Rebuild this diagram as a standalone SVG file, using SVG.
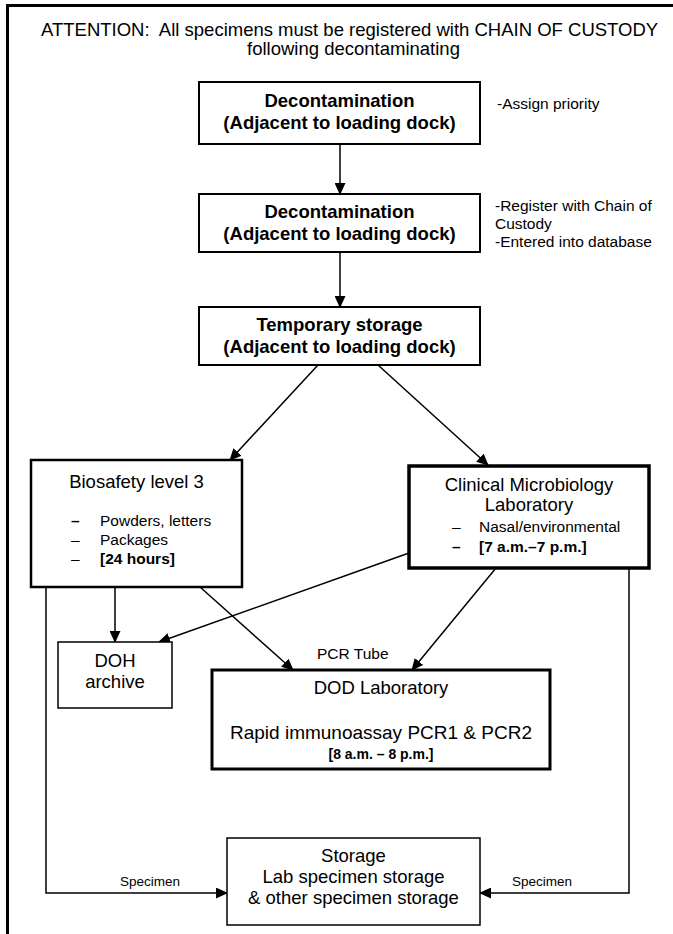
<svg xmlns="http://www.w3.org/2000/svg" width="673" height="934" viewBox="0 0 673 934">
<style>
text{font-family:"Liberation Sans",Arial,sans-serif;fill:#000}
.t{font-size:18.5px}
.b{font-size:18.5px;font-weight:bold}
.n{font-size:15.5px}
.nb{font-size:15.5px;font-weight:bold}
.s{font-size:13.5px}
.c{text-anchor:middle}
.box{fill:#fff;stroke:#000}
.ln{fill:none;stroke:#000;stroke-width:1.5}
</style>
<defs>
<marker id="ah" markerUnits="userSpaceOnUse" markerWidth="12" markerHeight="11" refX="11" refY="5.5" orient="auto" viewBox="0 0 12 11">
<path d="M0,0 L12,5.5 L0,11 z" fill="#000"/>
</marker>
</defs>
<rect width="673" height="934" fill="#fff"/>
<g id="frame">
<line x1="7.5" y1="4" x2="7.5" y2="934" stroke="#000" stroke-width="3"/>
<line x1="6" y1="5.5" x2="673" y2="5.5" stroke="#000" stroke-width="3"/>
</g>
<g id="title">
<text class="t" x="41" y="36" xml:space="preserve">ATTENTION:  All specimens must be registered with CHAIN OF CUSTODY</text>
<text class="t c" x="353.5" y="55">following decontaminating</text>
</g>
<g id="connectors">
<line class="ln" x1="340" y1="144" x2="340" y2="194" marker-end="url(#ah)"/>
<line class="ln" x1="340" y1="252" x2="340" y2="307" marker-end="url(#ah)"/>
<line class="ln" x1="318" y1="365" x2="230" y2="460" marker-end="url(#ah)"/>
<line class="ln" x1="378" y1="365" x2="488" y2="465" marker-end="url(#ah)"/>
<line class="ln" x1="115" y1="587" x2="115" y2="642" marker-end="url(#ah)" stroke-width="2"/>
<line class="ln" x1="200" y1="587" x2="293" y2="670" marker-end="url(#ah)"/>
<line class="ln" x1="409" y1="553" x2="159" y2="642" marker-end="url(#ah)"/>
<line class="ln" x1="496" y1="568" x2="412" y2="670" marker-end="url(#ah)"/>
<polyline class="ln" points="46,587 46,893 227,893" marker-end="url(#ah)"/>
<polyline class="ln" points="629,568 629,893 480,893" marker-end="url(#ah)"/>
<text class="s" x="150" y="886" text-anchor="middle">Specimen</text>
<text class="s" x="542" y="886" text-anchor="middle">Specimen</text>
<text class="n" x="317" y="659">PCR Tube</text>
</g>
<g id="decon1">
<rect class="box" x="199" y="82" width="281" height="62" stroke-width="2"/>
<text class="b c" x="339.5" y="107">Decontamination</text>
<text class="b c" x="339.5" y="129">(Adjacent to loading dock)</text>
<text class="n" x="497" y="109">-Assign priority</text>
</g>
<g id="decon2">
<rect class="box" x="199" y="194" width="281" height="58" stroke-width="2"/>
<text class="b c" x="339.5" y="218">Decontamination</text>
<text class="b c" x="339.5" y="240">(Adjacent to loading dock)</text>
<text class="n" x="495" y="211">-Register with Chain of</text>
<text class="n" x="495" y="229">Custody</text>
<text class="n" x="495" y="247">-Entered into database</text>
</g>
<g id="temp">
<rect class="box" x="199" y="307" width="281" height="58" stroke-width="2"/>
<text class="b c" x="339.5" y="331">Temporary storage</text>
<text class="b c" x="339.5" y="353">(Adjacent to loading dock)</text>
</g>
<g id="bsl3">
<rect class="box" x="31" y="460" width="211" height="127" stroke-width="2.5"/>
<text class="t c" x="136.5" y="488">Biosafety level 3</text>
<text class="nb" x="71" y="526">–</text>
<text class="n" x="100" y="526">Powders, letters</text>
<text class="n" x="71" y="545">–</text>
<text class="n" x="100" y="545">Packages</text>
<text class="n" x="71" y="564">–</text>
<text class="nb" x="100" y="564">[24 hours]</text>
</g>
<g id="clinical">
<rect class="box" x="409" y="466" width="240" height="102" stroke-width="3.5"/>
<text class="t c" x="529" y="491">Clinical Microbiology</text>
<text class="t c" x="529" y="511">Laboratory</text>
<text class="n" x="452" y="532">–</text>
<text class="n" x="479" y="532">Nasal/environmental</text>
<text class="nb" x="452" y="552">–</text>
<text class="nb" x="479" y="552">[7 a.m.–7 p.m.]</text>
</g>
<g id="doh">
<rect class="box" x="58" y="642" width="114" height="66" stroke="#555" stroke-width="1.5"/>
<text class="t c" x="115" y="667">DOH</text>
<text class="t c" x="115" y="688">archive</text>
</g>
<g id="dod">
<rect class="box" x="212" y="670" width="338" height="99" stroke-width="3"/>
<text class="t c" x="381" y="694">DOD Laboratory</text>
<text class="c" x="381" y="739" style="font-size:19px">Rapid immunoassay PCR1 &amp; PCR2</text>
<text class="c" x="381" y="759" style="font-size:14px;font-weight:bold">[8 a.m. – 8 p.m.]</text>
</g>
<g id="storage">
<rect class="box" x="227" y="838" width="253" height="87" stroke="#444" stroke-width="1.5"/>
<text class="t c" x="353.5" y="862">Storage</text>
<text class="t c" x="353.5" y="883">Lab specimen storage</text>
<text class="t c" x="353.5" y="904">&amp; other specimen storage</text>
</g>
</svg>
